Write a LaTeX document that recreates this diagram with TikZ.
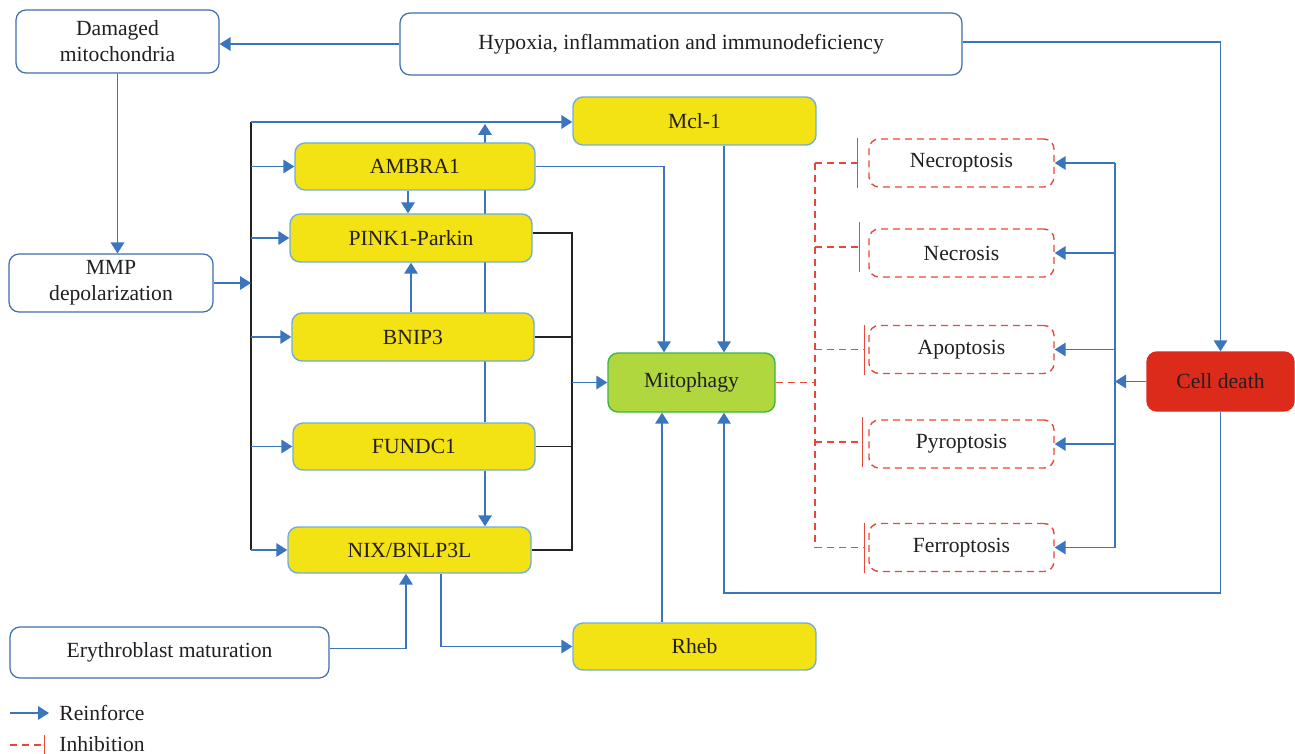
\documentclass[tikz,border=0pt]{standalone}
\usepackage{fontspec}
\setmainfont{Liberation Serif}
\usetikzlibrary{arrows.meta,calc}
\pgfdeclarelayer{background}
\pgfsetlayers{background,main}
\definecolor{ablue}{RGB}{58,117,190}
\definecolor{lblue}{RGB}{110,175,220}
\definecolor{byell}{RGB}{243,226,20}
\definecolor{mgreen}{RGB}{176,216,62}
\definecolor{gborder}{RGB}{60,180,70}
\definecolor{cred}{RGB}{220,43,26}
\definecolor{dred}{RGB}{232,72,58}
\definecolor{wborder}{RGB}{60,110,175}
\definecolor{txt}{RGB}{35,31,32}
\definecolor{blk}{RGB}{35,35,35}
\tikzset{
  every node/.style={font=\fontsize{10.8}{13}\selectfont, text=txt, align=center, inner sep=2pt},
  wbox/.style={draw=wborder, line width=0.6pt, rounded corners=5pt, fill=white},
  ybox/.style={draw=lblue, line width=0.7pt, rounded corners=5pt, fill=byell},
  gbox/.style={draw=gborder, line width=0.7pt, rounded corners=5pt, fill=mgreen},
  rbox/.style={draw=cred, line width=0.7pt, rounded corners=5pt, fill=cred},
  dbox/.style={draw=dred, line width=0.7pt, dash pattern=on 3.5pt off 2.5pt, rounded corners=5pt, fill=white},
  arr/.style={draw=ablue, line width=0.75pt, -{Triangle[length=5.5pt,width=6.8pt]}},
  bline/.style={draw=ablue, line width=0.75pt},
  kline/.style={draw=blk, line width=0.75pt},
  inhl/.style={draw=dred, line width=0.7pt, dash pattern=on 3.5pt off 2.5pt},
  inh/.style={draw=dred, line width=0.7pt, dash pattern=on 3.5pt off 2.5pt, -{Bar[width=25pt]}},
  inhs/.style={draw=dred, line width=0.7pt, dash pattern=on 3.5pt off 2.5pt, -{Bar[width=10pt]}},
}
\begin{document}
\begin{tikzpicture}[x=0.5pt,y=-0.5pt]
\useasboundingbox (0,0) rectangle (1295,754);
% nodes
\node[wbox, minimum width=101.5pt, minimum height=31.5pt] (dm) at (117.5,41.5) {Damaged\\mitochondria};
\node[wbox, minimum width=281pt, minimum height=31pt] (hy) at (681,44) {Hypoxia, inflammation and immunodeficiency};
\node[ybox, minimum width=121.5pt, minimum height=24pt] (mcl) at (694.5,121) {Mcl-1};
\node[ybox, minimum width=120pt, minimum height=23.5pt] (amb) at (415,166.5) {AMBRA1};
\node[ybox, minimum width=121pt, minimum height=24pt] (pink) at (411,238) {PINK1-Parkin};
\node[ybox, minimum width=121pt, minimum height=24pt] (bnip) at (413,337) {BNIP3};
\node[ybox, minimum width=121pt, minimum height=23.5pt] (fund) at (414,446.5) {FUNDC1};
\node[ybox, minimum width=121.5pt, minimum height=23pt] (nix) at (409.5,550) {NIX/BNLP3L};
\node[wbox, minimum width=102pt, minimum height=29pt] (mmp) at (111,283) {MMP\\depolarization};
\node[gbox, minimum width=83.5pt, minimum height=29.5pt] (mito) at (691.5,382.5) {Mitophagy};
\node[ybox, minimum width=121.5pt, minimum height=23.5pt] (rheb) at (694.5,646.5) {Rheb};
\node[wbox, minimum width=159.5pt, minimum height=25.5pt] (ery) at (169.5,652.5) {Erythroblast maturation};
\node[dbox, minimum width=92.5pt, minimum height=24pt] (necrop) at (961.5,163) {Necroptosis};
\node[dbox, minimum width=92.5pt, minimum height=24pt] (necro) at (961.5,253) {Necrosis};
\node[dbox, minimum width=92.5pt, minimum height=24pt] (apop) at (961.5,349.5) {Apoptosis};
\node[dbox, minimum width=92.5pt, minimum height=24pt] (pyro) at (961.5,444) {Pyroptosis};
\node[dbox, minimum width=92.5pt, minimum height=24pt] (ferro) at (961.5,547.5) {Ferroptosis};
\node[rbox, minimum width=73.5pt, minimum height=29.5pt] (cd) at (1220.5,381.5) {Cell death};
% helper coordinates
\coordinate (blT) at (251,122);
\coordinate (vx) at (485,0);
\coordinate (ax) at (408,0);
\coordinate (bx) at (411,0);
\coordinate (m1) at (664,0);
\coordinate (m2) at (724,0);
\coordinate (r1) at (662,0);
\coordinate (br) at (572,0);
\coordinate (nx) at (441,0);
\coordinate (ex) at (406,0);
\coordinate (lowy) at (0,593);
\coordinate (vr) at (1115,0);
\coordinate (rx) at (815,0);
% background vertical line
\begin{pgfonlayer}{background}
\draw[arr, shorten >=1pt] (fund.north -| vx) -- (vx |- blT);
\end{pgfonlayer}
% top left
\draw[arr] (hy.west) -- (dm.east |- hy.west);
\draw[arr] (dm.south) -- (dm.south |- mmp.north);
\draw[arr] ([yshift=1pt]hy.east) -| (cd.north);
% black left line
\draw[kline] (blT) -- (blT |- nix.west);
\draw[arr] (mmp.east) -- (mmp.east -| blT);
\draw[arr] (blT) -- (mcl.west |- blT);
\draw[arr] (amb.west -| blT) -- (amb.west);
\draw[arr] (pink.west -| blT) -- (pink.west);
\draw[arr] (bnip.west -| blT) -- (bnip.west);
\draw[arr] (fund.west -| blT) -- (fund.west);
\draw[arr] (nix.west -| blT) -- (nix.west);
% internal arrows
\draw[arr] (amb.south -| ax) -- (pink.north -| ax);
\draw[arr] (bnip.north -| bx) -- (pink.south -| bx);
\draw[arr] (fund.south -| vx) -- (nix.north -| vx);
% to mitophagy
\draw[arr] (amb.east) -| (mito.north -| m1);
\draw[arr] (mcl.south -| m2) -- (mito.north -| m2);
\draw[kline] ([yshift=2.5pt]pink.east) -| (br |- nix.east) -- (nix.east);
\draw[kline] (bnip.east) -- (bnip.east -| br);
\draw[kline] (fund.east) -- (fund.east -| br);
\draw[arr] (br |- mito.west) -- (mito.west);
% bottom
\draw[arr] (nix.south -| nx) |- (rheb.west);
\draw[arr] ([yshift=2pt]ery.east) -| (nix.south -| ex);
\draw[arr] (rheb.north -| r1) -- (mito.south -| r1);
\draw[arr] (cd.south) |- (m2 |- lowy) -- (mito.south -| m2);
% cell death to types
\draw[arr] (cd.west) -- (cd.west -| vr);
\draw[bline] (vr |- necrop.east) -- (vr |- ferro.east);
\draw[arr] (vr |- necrop.east) -- (necrop.east);
\draw[arr] (vr |- necro.east) -- (necro.east);
\draw[arr] (vr |- apop.east) -- (apop.east);
\draw[arr] (vr |- pyro.east) -- (pyro.east);
\draw[arr] (vr |- ferro.east) -- (ferro.east);
% inhibition
\draw[inhl] (mito.east) -- (mito.east -| rx);
\draw[inhl] (rx |- necrop.west) -- (rx |- ferro.west);
\draw[inh] (rx |- necrop.west) -- ([xshift=-5pt]necrop.west);
\draw[inh] (rx |- 0,247) -- ([xshift=-4pt,yshift=3pt]necro.west);
\draw[inh] (rx |- apop.west) -- ([xshift=-1.5pt]apop.west);
\draw[inh] (rx |- 0,442) -- ([xshift=-2.5pt,yshift=1pt]pyro.west);
\draw[inh] (rx |- ferro.west) -- ([xshift=-1.5pt]ferro.west);
% legend
\coordinate (la) at (10,713);
\coordinate (lb) at (49,713);
\coordinate (lc) at (10,745);
\coordinate (ld) at (45,745);
\draw[arr] (la) -- (lb);
\draw[inhs] (lc) -- (ld);
\node[anchor=west] (lg1) at (55,713) {Reinforce};
\node[anchor=west] (lg2) at (55,744) {Inhibition};
\end{tikzpicture}
\end{document}
